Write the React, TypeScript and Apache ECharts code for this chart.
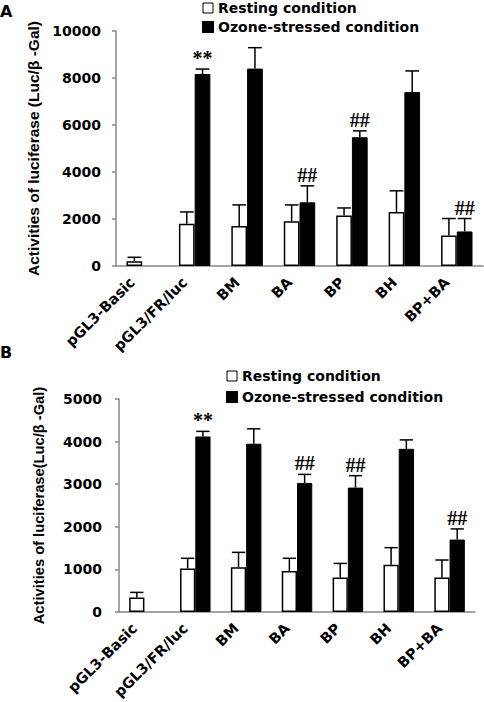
import React, { useEffect, useRef } from "react";
import * as echarts from "echarts";

const categories = ["pGL3-Basic", "pGL3/FR/luc", "BM", "BA", "BP", "BH", "BP+BA"];

const restA = [200, 1800, 1700, 1900, 2150, 2300, 1300];
const restAErr = [170, 500, 900, 700, 320, 900, 720];
const ozoneA = [null, 8170, 8400, 2710, 5480, 7400, 1470];
const ozoneAErr = [null, 210, 890, 700, 270, 900, 550];
const marksA = ["", "**", "", "##", "##", "", "##"];

const restB = [340, 1020, 1050, 960, 810, 1110, 810];
const restBErr = [120, 240, 350, 300, 330, 400, 410];
const ozoneB = [null, 4120, 3950, 3030, 2920, 3830, 1700];
const ozoneBErr = [null, 120, 350, 200, 280, 210, 250];
const marksB = ["", "**", "", "##", "##", "", "##"];

const SANS = '"DejaVu Sans"';
const BAR_RATIO = 0.3;

function errData(vals: (number | null)[], errs: (number | null)[]) {
  const out: number[][] = [];
  vals.forEach((v, i) => {
    if (v != null && errs[i] != null) out.push([i, v, errs[i] as number]);
  });
  return out;
}

function errRender(side: number, marks: string[] | null) {
  return (params: any, api: any) => {
    const i = api.value(0);
    const v = api.value(1);
    const e = api.value(2);
    const catW = api.size([1, 0])[0];
    const bw = catW * BAR_RATIO;
    const base = api.coord([i, v]);
    const top = api.coord([i, v + e]);
    const x = base[0] + (side * bw) / 2;
    const half = bw / 2 - 1;
    const children: any[] = [
      {
        type: "line",
        shape: { x1: x, y1: base[1], x2: x, y2: top[1] },
        style: { stroke: "#000", lineWidth: 1.5 },
      },
      {
        type: "line",
        shape: { x1: x - half, y1: top[1], x2: x + half, y2: top[1] },
        style: { stroke: "#000", lineWidth: 1.5 },
      },
    ];
    if (marks && marks[i]) {
      children.push({
        type: "text",
        style: {
          text: marks[i],
          x: x,
          y: top[1] - 1,
          align: "center",
          verticalAlign: "bottom",
          font: 'bold 20px "Liberation Serif"',
          fill: "#000",
        },
      });
    }
    return { type: "group", children };
  };
}

function xAxisCfg(gridIndex: number) {
  return {
    type: "category",
    gridIndex,
    data: categories,
    axisLine: { lineStyle: { color: "#888", width: 1.5 } },
    axisTick: { inside: true, length: 5, lineStyle: { color: "#888", width: 1.5 } },
    axisLabel: {
      rotate: 45,
      interval: 0,
      margin: 4,
      formatter: (v: string) => "{a|" + v + "}",
      rich: {
        a: {
          padding: [0, 14, 0, 0],
          color: "#000",
          fontFamily: SANS,
          fontWeight: "bold",
          fontSize: 14.5,
        },
      },
      color: "#000",
      fontFamily: SANS,
      fontWeight: "bold",
      fontSize: 14.5,
    },
  };
}

function yAxisCfg(gridIndex: number, max: number, interval: number, name: string, nameGap: number, labelMargin: number, nameSize: number) {
  return {
    type: "value",
    gridIndex,
    min: 0,
    max,
    interval,
    name,
    nameLocation: "middle",
    nameRotate: 90,
    nameGap,
    nameTextStyle: {
      color: "#000",
      fontFamily: '"Liberation Sans"',
      fontWeight: "bold",
      fontSize: nameSize,
    },
    splitLine: { show: false },
    axisLine: { show: true, lineStyle: { color: "#888", width: 1.5 } },
    axisTick: { show: true, inside: false, length: 4, lineStyle: { color: "#888", width: 1.5 } },
    axisLabel: {
      margin: labelMargin,
      formatter: (v: number) => String(v),
      color: "#000",
      fontFamily: SANS,
      fontWeight: "bold",
      fontSize: 14,
    },
  };
}

const restStyle = { color: "#fff", borderColor: "#000", borderWidth: 1.5 };
const ozoneStyle = { color: "#000", borderColor: "#000", borderWidth: 1 };

function legendCfg(left: number, top: number, gap: number) {
  return {
    orient: "vertical",
    left,
    top,
    padding: 0,
    itemWidth: 10,
    itemHeight: 10,
    itemGap: gap,
    icon: "rect",
    selectedMode: false,
    textStyle: { color: "#000", fontFamily: SANS, fontWeight: "bold", fontSize: 14 },
    data: [
      { name: "Resting condition", itemStyle: { color: "#fff", borderColor: "#000", borderWidth: 1 } },
      { name: "Ozone-stressed condition", itemStyle: { color: "#000" } },
    ],
  };
}

const option: any = {
  animation: false,
  backgroundColor: "#fff",
  grid: [
    { left: 116, top: 31, width: 367, height: 235 },
    { left: 119, top: 399, width: 356, height: 215 },
  ],
  legend: [legendCfg(202, 1, 5), legendCfg(226, 369, 7)],
  graphic: {
    elements: [
      { type: "text", left: 0, top: 3, style: { text: "A", font: 'bold 16px "DejaVu Sans"', fill: "#000" } },
      { type: "text", left: 0, top: 344, style: { text: "B", font: 'bold 16px "DejaVu Sans"', fill: "#000" } },
    ],
  },
  xAxis: [xAxisCfg(0), xAxisCfg(1)],
  yAxis: [
    yAxisCfg(0, 10000, 2000, "Activities of luciferase (Luc/\u03b2 -Gal)", 70, 15, 15.5),
    yAxisCfg(1, 5000, 1000, "Activities of luciferase(Luc/\u03b2 -Gal)", 73, 17, 14.7),
  ],
  series: [
    {
      name: "Resting condition",
      type: "bar",
      xAxisIndex: 0,
      yAxisIndex: 0,
      data: restA,
      barWidth: "30%",
      barGap: "0%",
      itemStyle: restStyle,
    },
    {
      name: "Ozone-stressed condition",
      type: "bar",
      xAxisIndex: 0,
      yAxisIndex: 0,
      data: ozoneA,
      barWidth: "30%",
      barGap: "0%",
      itemStyle: ozoneStyle,
    },
    {
      name: "Resting condition",
      type: "bar",
      xAxisIndex: 1,
      yAxisIndex: 1,
      data: restB,
      barWidth: "30%",
      barGap: "0%",
      itemStyle: restStyle,
    },
    {
      name: "Ozone-stressed condition",
      type: "bar",
      xAxisIndex: 1,
      yAxisIndex: 1,
      data: ozoneB,
      barWidth: "30%",
      barGap: "0%",
      itemStyle: ozoneStyle,
    },
    {
      name: "errRestA",
      type: "custom",
      xAxisIndex: 0,
      yAxisIndex: 0,
      data: errData(restA, restAErr),
      encode: { x: 0, y: 1 },
      renderItem: errRender(-1, null),
      z: 5,
    },
    {
      name: "errOzoneA",
      type: "custom",
      xAxisIndex: 0,
      yAxisIndex: 0,
      data: errData(ozoneA, ozoneAErr),
      encode: { x: 0, y: 1 },
      renderItem: errRender(1, marksA),
      z: 5,
    },
    {
      name: "errRestB",
      type: "custom",
      xAxisIndex: 1,
      yAxisIndex: 1,
      data: errData(restB, restBErr),
      encode: { x: 0, y: 1 },
      renderItem: errRender(-1, null),
      z: 5,
    },
    {
      name: "errOzoneB",
      type: "custom",
      xAxisIndex: 1,
      yAxisIndex: 1,
      data: errData(ozoneB, ozoneBErr),
      encode: { x: 0, y: 1 },
      renderItem: errRender(1, marksB),
      z: 5,
    },
  ],
};

export default function App() {
  const ref = useRef<HTMLDivElement>(null);
  useEffect(() => {
    if (!ref.current) return;
    const chart = echarts.init(ref.current, null, { renderer: "svg" });
    chart.setOption(option);
    return () => chart.dispose();
  }, []);
  return (
    <div
      ref={ref}
      style={{ position: "absolute", left: 0, top: 0, width: 484, height: 702, background: "#fff" }}
    />
  );
}
